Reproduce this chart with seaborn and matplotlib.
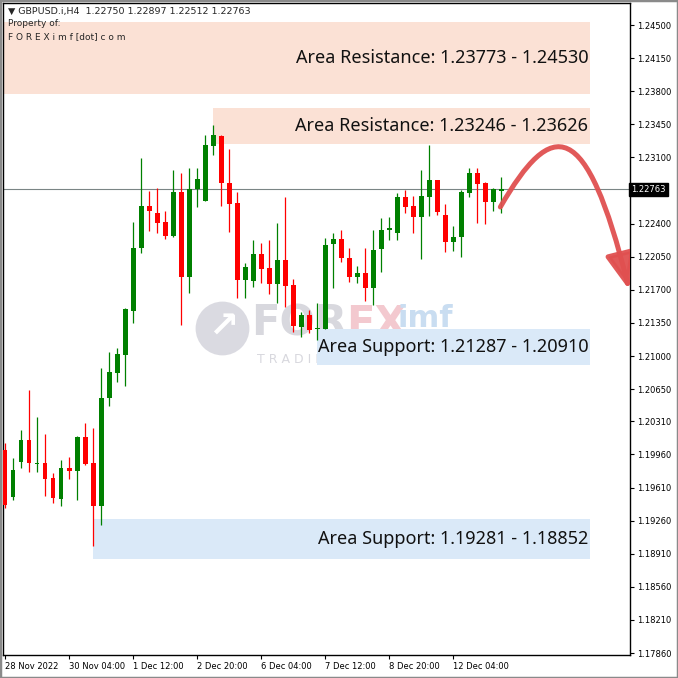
import numpy as np
import pandas as pd
import matplotlib
matplotlib.use("Agg")
import matplotlib.pyplot as plt
import seaborn as sns
from matplotlib.path import Path
from matplotlib.patches import FancyArrowPatch, Rectangle

# GBPUSD H4 candles
opens = [1.20008, 1.19511, 1.19881, 1.20113, 1.19860, 1.19870, 1.19712, 1.19490, 1.19817, 1.19786,
         1.20145, 1.19870, 1.19416, 1.20557, 1.20821, 1.21012, 1.21477, 1.22143, 1.22587, 1.22513,
         1.22418, 1.22270, 1.22735, 1.21836, 1.22767, 1.22640, 1.23221, 1.23327, 1.22830, 1.22619,
         1.21805, 1.21794, 1.22080, 1.21931, 1.21762, 1.22016, 1.21752, 1.21308, 1.21435, 1.21287,
         1.21287, 1.22185, 1.22238, 1.22037, 1.21836, 1.21879, 1.21720, 1.22132, 1.22333, 1.22301,
         1.22682, 1.22587, 1.22471, 1.22682, 1.22862, 1.22492, 1.22206, 1.22259, 1.22724, 1.22936,
         1.22830, 1.22629, 1.22750]
highs = [1.20082, 1.19923, 1.20219, 1.20642, 1.20357, 1.20177, 1.19765, 1.19902, 1.19934, 1.20156,
         1.20293, 1.20240, 1.20874, 1.21044, 1.21086, 1.21509, 1.22418, 1.23094, 1.22745, 1.22777,
         1.22534, 1.22967, 1.22936, 1.22988, 1.22988, 1.23337, 1.23443, 1.23337, 1.23189, 1.22735,
         1.21984, 1.22227, 1.22196, 1.22227, 1.22407, 1.22682, 1.21815, 1.21466, 1.21488, 1.21562,
         1.22249, 1.22301, 1.22333, 1.22143, 1.21953, 1.22143, 1.22333, 1.22460, 1.22470, 1.22724,
         1.22756, 1.22693, 1.22967, 1.23232, 1.22862, 1.22608, 1.22375, 1.22756, 1.22988, 1.22988,
         1.22840, 1.22777, 1.22897]
lows = [1.19395, 1.19479, 1.19817, 1.19775, 1.19775, 1.19522, 1.19448, 1.19416, 1.19701, 1.19479,
        1.19849, 1.18993, 1.19215, 1.20473, 1.20727, 1.20684, 1.21350, 1.22090, 1.22323, 1.22301,
        1.22238, 1.22259, 1.21329, 1.21667, 1.22576, 1.22640, 1.23126, 1.22587, 1.22312, 1.21614,
        1.21614, 1.21731, 1.21773, 1.21657, 1.21562, 1.21519, 1.21255, 1.21202, 1.21244, 1.21170,
        1.21287, 1.21720, 1.21995, 1.21784, 1.21773, 1.21583, 1.21540, 1.21889, 1.22227, 1.22227,
        1.22513, 1.22301, 1.22027, 1.22481, 1.22492, 1.22101, 1.22111, 1.22048, 1.22682, 1.22407,
        1.22397, 1.22534, 1.22512]
closes = [1.19426, 1.19796, 1.20113, 1.19870, 1.19870, 1.19701, 1.19500, 1.19817, 1.19786, 1.20145,
          1.19860, 1.19416, 1.20557, 1.20832, 1.21022, 1.21498, 1.22143, 1.22587, 1.22534, 1.22407,
          1.22270, 1.22735, 1.21836, 1.22767, 1.22872, 1.23232, 1.23337, 1.22830, 1.22608, 1.21805,
          1.21942, 1.22080, 1.21921, 1.21762, 1.22016, 1.21741, 1.21318, 1.21435, 1.21276, 1.21297,
          1.22175, 1.22238, 1.22037, 1.21836, 1.21879, 1.21720, 1.22122, 1.22333, 1.22354, 1.22682,
          1.22576, 1.22471, 1.22693, 1.22862, 1.22523, 1.22206, 1.22259, 1.22735, 1.22936, 1.22819,
          1.22629, 1.22767, 1.22763]

# zones: low, high, first bar, label
zone_lo = [1.23773, 1.23246, 1.20910, 1.18852]
zone_hi = [1.24530, 1.23626, 1.21287, 1.19281]
zone_start = [-0.25, 26, 39, 11]
zone_text = ["Area Resistance: 1.23773 - 1.24530", "Area Resistance: 1.23246 - 1.23626",
             "Area Support: 1.21287 - 1.20910", "Area Support: 1.19281 - 1.18852"]
zone_kind = ["res", "res", "sup", "sup"]

ytick_vals = [1.24500, 1.24150, 1.23800, 1.23450, 1.23100, 1.22400, 1.22050, 1.21700, 1.21350,
              1.21000, 1.20650, 1.20310, 1.19960, 1.19610, 1.19260, 1.18910, 1.18560, 1.18210, 1.17860]
xtick_pos = [0, 8, 16, 24, 32, 40, 48, 56]
xtick_labels = ["28 Nov 2022", "30 Nov 04:00", "1 Dec 12:00", "2 Dec 20:00",
                "6 Dec 04:00", "7 Dec 12:00", "8 Dec 20:00", "12 Dec 04:00"]
last_price = 1.22763

df = pd.DataFrame({"open": opens, "high": highs, "low": lows, "close": closes})
df["bar"] = np.arange(len(df))
df["up"] = df["close"] >= df["open"]

sns.set_theme(style="white")
plt.rcParams["font.family"] = ["DejaVu Sans"]

W = H = 678
fig = plt.figure(figsize=(6.78, 6.78), dpi=100)
ax = fig.add_axes([3 / W, 1 - 655 / H, 627 / W, 652 / H])

ax.set_xlim(-0.25, 78.1)
ax.set_ylim(1.17839, 1.24733)

res_col = "#fbe1d5"
sup_col = "#dae9f8"
for lo, hi, x0, txt, kind in zip(zone_lo, zone_hi, zone_start, zone_text, zone_kind):
    ax.add_patch(Rectangle((x0, lo), 73.1 - x0, hi - lo,
                           color=res_col if kind == "res" else sup_col, lw=0, zorder=1))
    ax.text(72.9, (lo + hi) / 2, txt, ha="right", va="center", fontsize=13,
            family="Noto Sans", color="#111111", zorder=6)

# watermark (logo + name, faint, behind everything)
ax.scatter([27.1], [1.21296], s=1500, color="#d4d4dc", alpha=0.85, lw=0, zorder=0.5)
ax.text(27.3, 1.21300, "\u2197", fontsize=26, fontweight="bold", color="white",
        va="center", ha="center", zorder=0.55)
ax.text(30.7, 1.21340, "FOR", fontsize=30, fontweight="bold", color="#d8d8de",
        va="center", ha="left", zorder=0.6)
ax.text(42.6, 1.21340, "EX", fontsize=30, fontweight="bold", color="#f3c9cf",
        va="center", ha="left", zorder=0.6)
ax.text(49.0, 1.21400, "imf", fontsize=22, fontweight="bold", color="#c9ddf1",
        va="center", ha="left", zorder=0.6)
ax.text(31.5, 1.20960, "T R A D I N G", fontsize=9, color="#d8d8de",
        va="center", ha="left", zorder=0.6)

# candles
green, red = "#008000", "#ff0000"
colors = np.where(df["up"], green, red)
ax.vlines(df["bar"], df["low"], df["high"], colors=colors, lw=0.9, zorder=3)
body_lo = np.minimum(df["open"], df["close"])
body_h = np.maximum(np.abs(df["close"] - df["open"]), 0.00011)
ax.bar(df["bar"], body_h, bottom=body_lo, width=0.62, color=colors, lw=0, zorder=4)

ax.axhline(last_price, color="#7a8585", lw=0.8, zorder=2)

# projected path arrow
verts = [(61.9, 1.22576), (68.4, 1.23530), (72.6, 1.23530), (78.0, 1.21700)]
arrow = FancyArrowPatch(path=Path(verts, [Path.MOVETO, Path.CURVE4, Path.CURVE4, Path.CURVE4]),
                        arrowstyle="-|>,head_length=1.1,head_width=0.45", mutation_scale=20,
                        color="#e05050", lw=3.6, alpha=0.95, zorder=7)
ax.add_patch(arrow)

# axes styling (MT4 look)
for s in ax.spines.values():
    s.set_color("black")
    s.set_linewidth(1.0)
ax.yaxis.tick_right()
ax.set_yticks(ytick_vals)
ax.set_yticklabels([f"{v:.5f}" for v in ytick_vals])
ax.set_xticks(xtick_pos)
ax.set_xticklabels(xtick_labels, ha="left")
ax.tick_params(axis="y", direction="out", length=3, width=0.8, pad=2, labelsize=6.0,
               colors="black", right=True, left=False)
ax.tick_params(axis="x", direction="out", length=3, width=0.8, pad=2, labelsize=6.0,
               colors="black", bottom=True)
ax.grid(False)

ax.text(1.0015, last_price, f"{last_price:.5f}", transform=ax.get_yaxis_transform(),
        ha="left", va="center", fontsize=6.0, color="white", zorder=10,
        bbox=dict(boxstyle="square,pad=0.25", fc="black", ec="black"))

fig.text(8 / W, 1 - 11 / H, "\u25bc GBPUSD.i,H4  1.22750 1.22897 1.22512 1.22763",
         fontsize=6.8, va="center", ha="left")
fig.text(8 / W, 1 - 24 / H, "Property of:", fontsize=6.5, va="center", ha="left")
fig.text(8 / W, 1 - 37 / H, "F O R E X i m f [dot] c o m", fontsize=6.5, va="center", ha="left")

fig.patches.append(Rectangle((0, 0), 1, 1, transform=fig.transFigure, fill=False,
                             ec="#8a8a8a", lw=2.5))

fig.savefig("out.png", dpi=100)
